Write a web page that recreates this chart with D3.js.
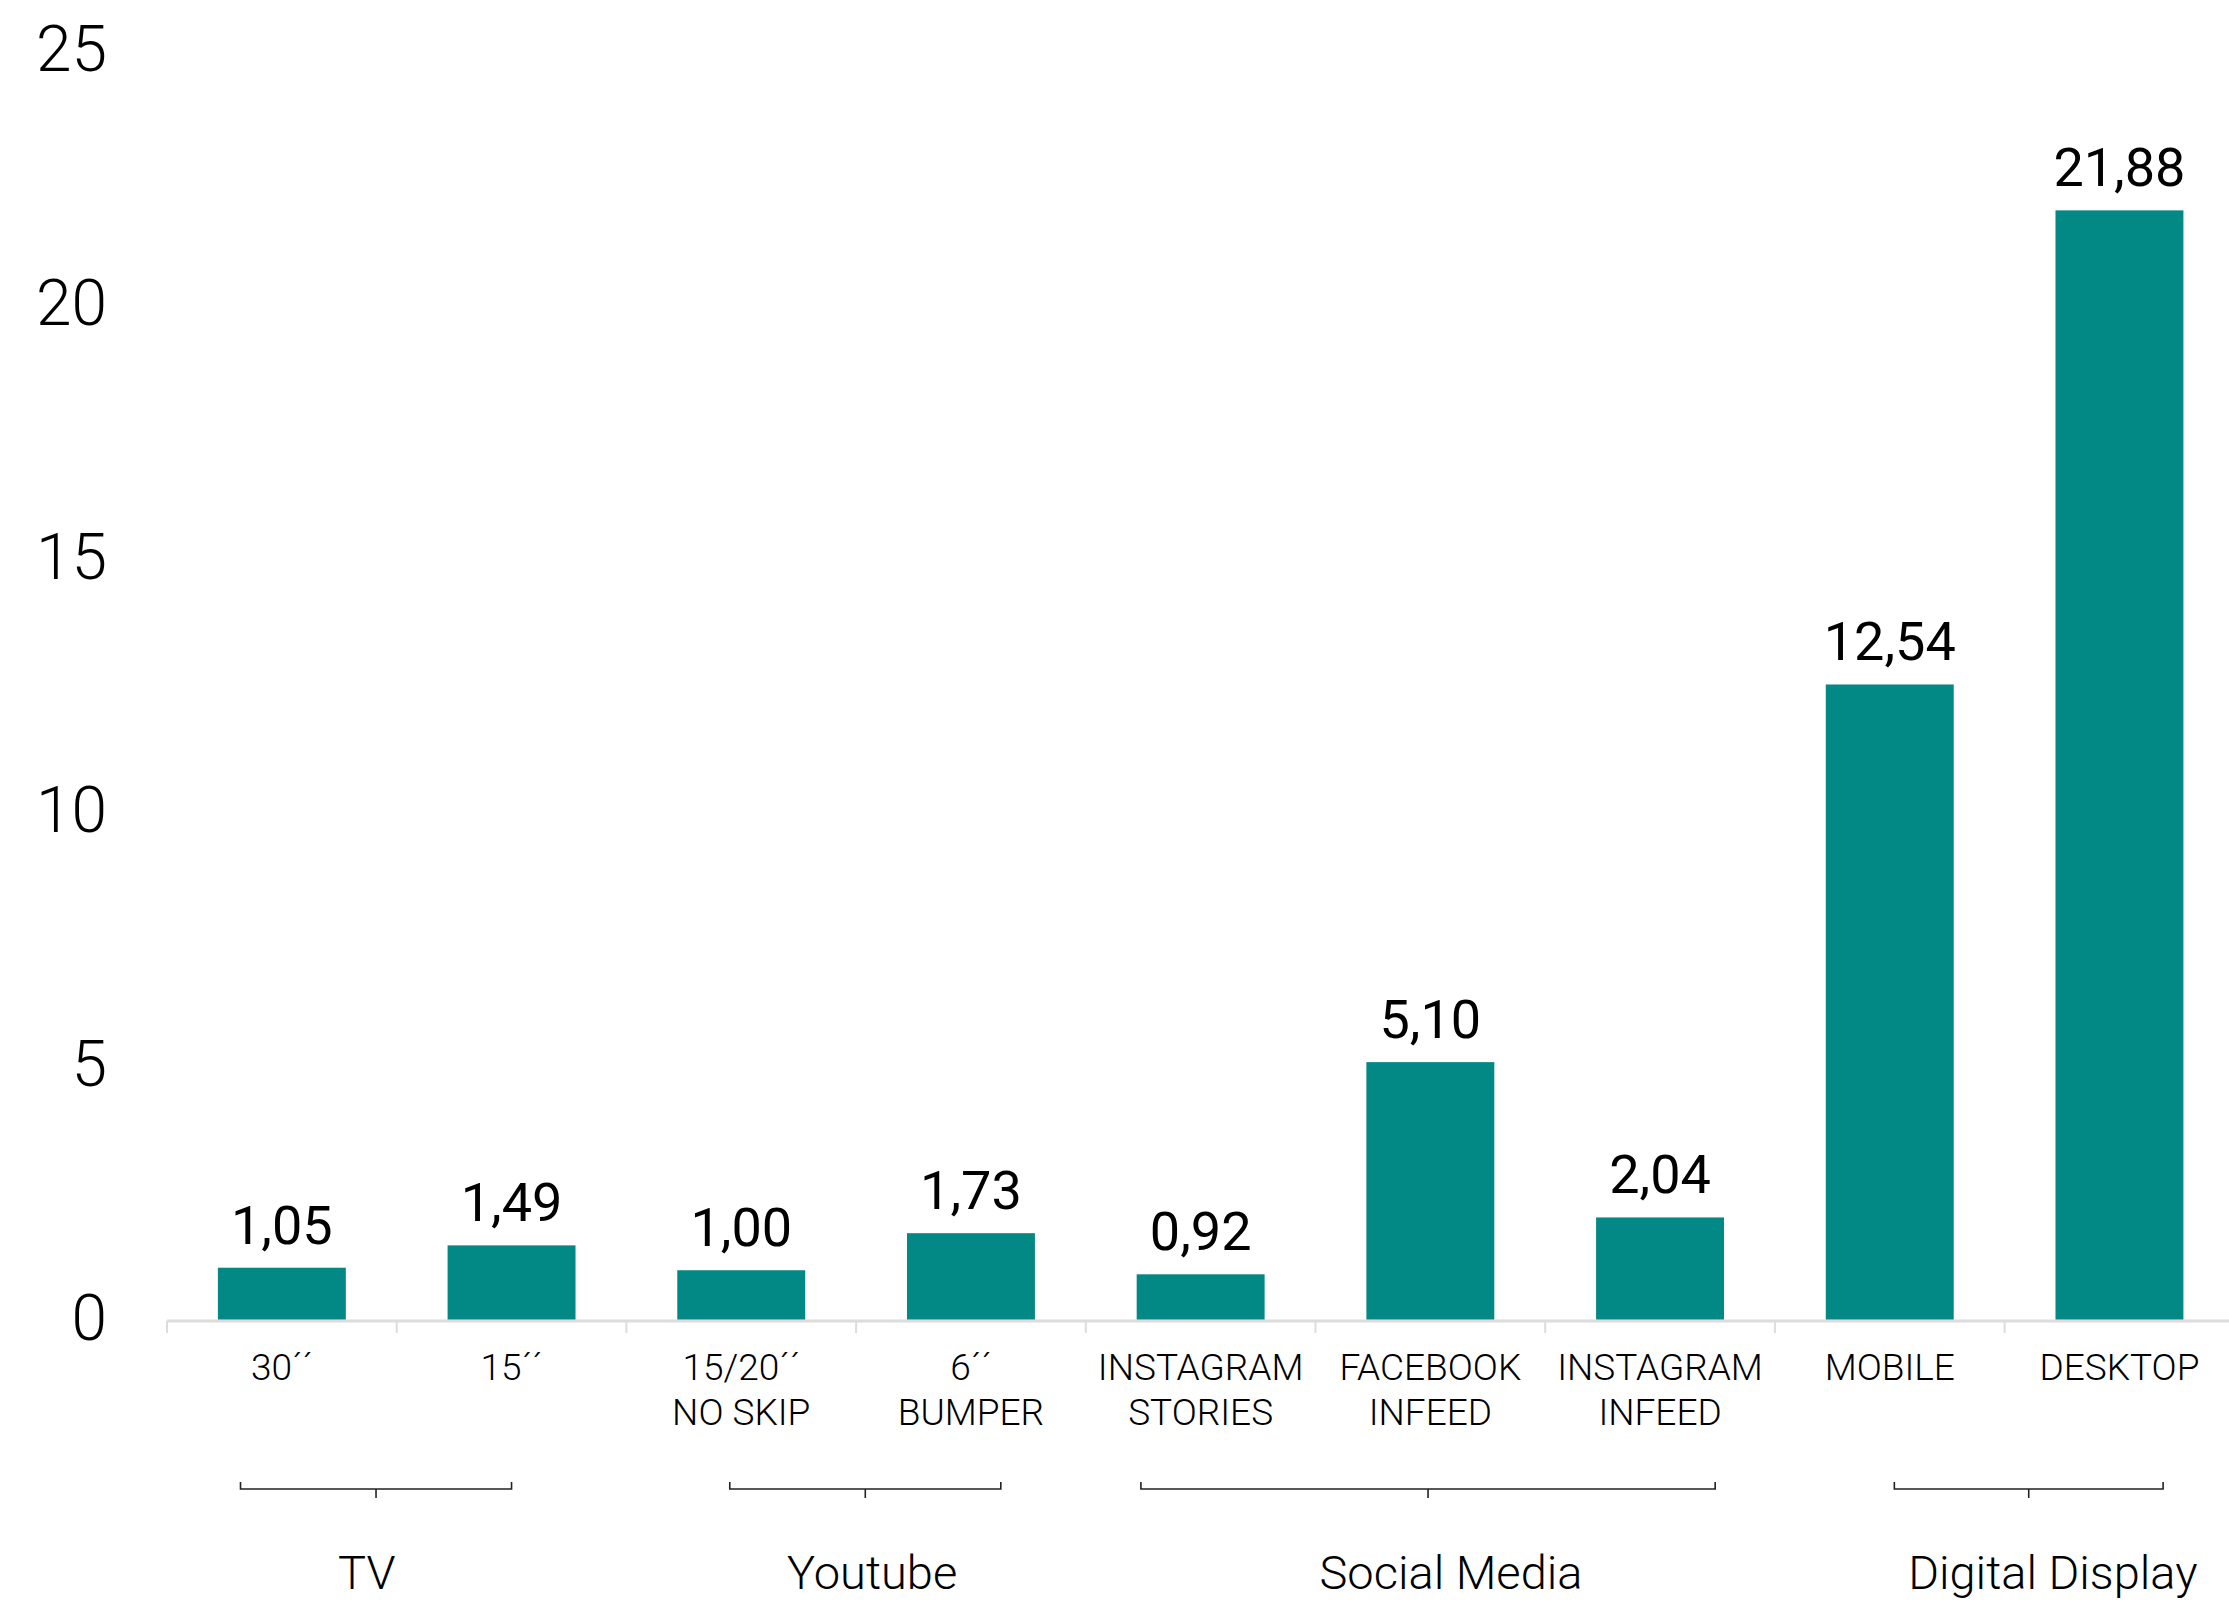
<!DOCTYPE html>
<html>
<head>
<meta charset="utf-8">
<script src="https://cdn.jsdelivr.net/npm/d3@7"></script>
<style>
  html, body { margin: 0; padding: 0; background: #fff; }
  svg { display: block; }
  text { font-family: Roboto, "Open Sans", sans-serif; fill: #000; }
</style>
</head>
<body>
<script>
// ---- data ----
const categories = ["30´´", "15´´", "15/20´´\nNO SKIP", "6´´\nBUMPER", "INSTAGRAM\nSTORIES",
                    "FACEBOOK\nINFEED", "INSTAGRAM\nINFEED", "MOBILE", "DESKTOP"];
const values = [1.05, 1.49, 1.00, 1.73, 0.92, 5.10, 2.04, 12.54, 21.88];
const yTicks = [0, 5, 10, 15, 20, 25];
// groups: bracket extents and label anchor expressed as (fractional) category index
const groupNames = ["TV", "Youtube", "Social Media", "Digital Display"];
const groupFrom  = [-0.18, 1.95, 3.74, 7.02];
const groupTo    = [1.0, 3.13, 6.24, 8.19];
const groupLabelAt = [0.37, 2.57, 5.09, 7.71];

// ---- layout ----
const W = 2229, H = 1602;
const svg = d3.select("body").append("svg").attr("width", W).attr("height", H);

const x = d3.scaleBand().domain(d3.range(categories.length)).range([167, 167 + 229.7 * 9]).paddingInner(0.443).paddingOuter(0.2215);
const xi = d3.scaleLinear().domain([0, 1]).range([x(0) + x.bandwidth() / 2, x(1) + x.bandwidth() / 2]);
const y = d3.scaleLinear().domain([0, 25]).range([1321, 52]);
const fmt = v => d3.format(".2f")(v).replace(".", ",");

// y tick labels
svg.append("g").selectAll("text").data(yTicks).join("text")
  .attr("x", 107).attr("y", d => y(d) + 19)
  .attr("text-anchor", "end")
  .style("font-size", "64px").style("font-weight", 300)
  .text(d => d);

// x axis line and ticks
const step = x.step();
const axisG = svg.append("g");
axisG.append("line")
  .attr("x1", 167).attr("x2", 167 + step * 9)
  .attr("y1", y(0)).attr("y2", y(0))
  .attr("stroke", "#dcdcdc").attr("stroke-width", 3);
axisG.selectAll("line.tk").data(d3.range(categories.length + 1)).join("line")
  .attr("class", "tk")
  .attr("x1", i => 167 + i * step).attr("x2", i => 167 + i * step)
  .attr("y1", y(0)).attr("y2", y(0) + 12)
  .attr("stroke", "#dcdcdc").attr("stroke-width", 2);

// bars
svg.append("g").selectAll("rect").data(values).join("rect")
  .attr("x", (d, i) => x(i)).attr("width", x.bandwidth())
  .attr("y", d => y(d)).attr("height", d => y(0) - y(d) - 1.5)
  .attr("fill", "#038985");

// value labels
svg.append("g").selectAll("text").data(values).join("text")
  .attr("x", (d, i) => x(i) + x.bandwidth() / 2)
  .attr("y", d => y(d) - 24)
  .attr("text-anchor", "middle")
  .style("font-size", "54px").style("font-weight", 400)
  .text(d => fmt(d));

// category labels
const cat = svg.append("g").selectAll("text").data(categories).join("text")
  .attr("x", (d, i) => x(i) + x.bandwidth() / 2)
  .attr("y", 1380)
  .attr("text-anchor", "middle")
  .style("font-size", "37px").style("font-weight", 300);
cat.each(function(d, i) {
  const lines = d.split("\n");
  d3.select(this).selectAll("tspan").data(lines).join("tspan")
    .attr("x", x(i) + x.bandwidth() / 2)
    .attr("dy", (l, j) => j === 0 ? 0 : 45)
    .text(l => l);
});

// group brackets
const br = svg.append("g").attr("fill", "none").attr("stroke", "#222").attr("stroke-width", 1.6);
groupNames.forEach((g, k) => {
  const x1 = xi(groupFrom[k]), x2 = xi(groupTo[k]), m = (x1 + x2) / 2;
  br.append("path").attr("d", `M${x1},1482 V1489 H${x2} V1482`);
  br.append("path").attr("d", `M${m},1489 V1498`);
});

// group labels
svg.append("g").selectAll("text").data(groupNames).join("text")
  .attr("x", (d, k) => xi(groupLabelAt[k]))
  .attr("y", 1589)
  .attr("text-anchor", "middle")
  .style("font-size", "47px").style("font-weight", 300)
  .text(d => d);
</script>
</body>
</html>
